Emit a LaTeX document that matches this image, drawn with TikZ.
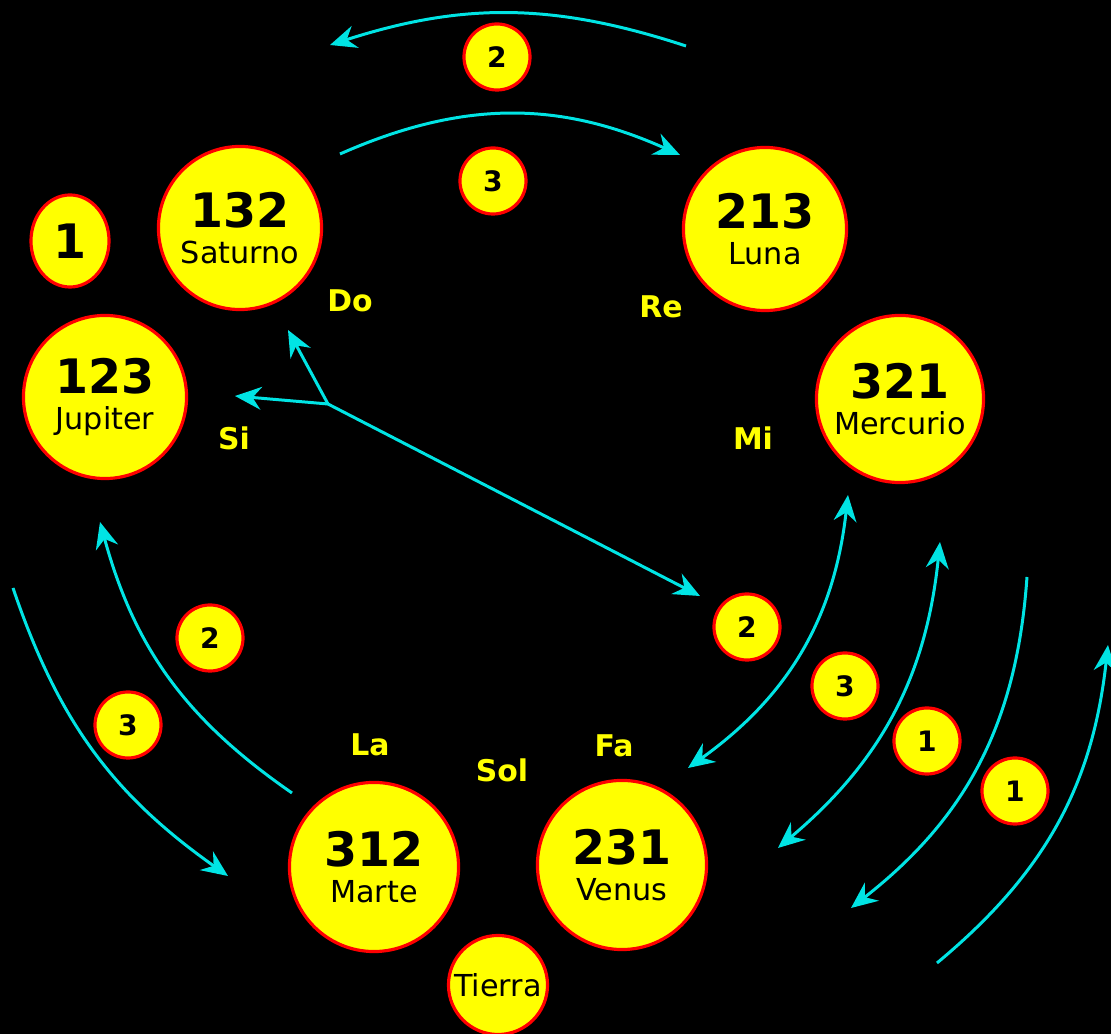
\documentclass[tikz,border=0pt]{standalone}
\usepackage{fontspec}
\setmainfont{DejaVu Sans}
\usetikzlibrary{arrows.meta,shapes.geometric}
\definecolor{sky}{RGB}{0,228,228}
\definecolor{sun}{RGB}{255,255,0}
\definecolor{rim}{RGB}{255,0,0}
\newcommand{\planetext}[2]{{\fontsize{13.5}{14}\selectfont\bfseries #1}\\[1.2pt]#2}
\begin{document}
\begin{tikzpicture}[x=0.01cm,y=-0.01cm,
    orbit/.style = {sky,line width=0.85pt,-{Stealth[length=7.5pt,width=6.5pt,inset=2.5pt]}},
    twoway/.style = {sky,line width=0.85pt,{Stealth[length=7.5pt,width=6.5pt,inset=2.5pt]}-{Stealth[length=7.5pt,width=6.5pt,inset=2.5pt]}},
    planet/.style = {circle,draw=rim,line width=0.9pt,fill=sun,minimum size=1.63cm,inner sep=0pt,align=center,font=\fontsize{8.6}{9}\selectfont},
    token/.style = {circle,draw=rim,line width=0.9pt,fill=sun,minimum size=0.66cm,inner sep=0pt,font=\fontsize{8}{9}\selectfont\bfseries},
    note/.style = {text=sun,font=\fontsize{8.5}{9}\selectfont\bfseries}]
    \fill[black] (0,0) rectangle (1111,1034);
    \useasboundingbox (0,0) rectangle (1111,1034);

    \coordinate (a1) at (686,46);   \coordinate (b1) at (330,45);
    \coordinate (a2) at (340,154);  \coordinate (b2) at (680,155);
    \coordinate (a4) at (292,793);  \coordinate (b4) at (100,522);
    \coordinate (a5) at (13,588);   \coordinate (b5) at (228,876);
    \coordinate (a6) at (688,768);  \coordinate (b6) at (848,495);
    \coordinate (a7) at (778,848);  \coordinate (b7) at (940,542);
    \coordinate (a8) at (1027,577); \coordinate (b8) at (851,908);
    \coordinate (a9) at (937,963);  \coordinate (b9) at (1108,645);
    \coordinate (fork) at (328,404);
    \coordinate (toSi) at (235,396);
    \coordinate (toDo) at (288,330);
    \coordinate (toTwo) at (700,596);

    \draw[orbit] (a1) to[bend right=18] (b1);
    \draw[orbit] (a2) to[bend left=24] (b2);
    \draw[orbit] (a4) to[bend left=20] (b4);
    \draw[orbit] (a5) to[bend right=18] (b5);
    \draw[twoway] (a6) to[bend right=24] (b6);
    \draw[twoway] (a7) to[bend right=22] (b7);
    \draw[orbit] (a8) to[bend left=24] (b8);
    \draw[orbit] (a9) to[bend right=22] (b9);
    \draw[orbit] (fork) -- (toTwo);
    \draw[orbit] (fork) -- (toSi);
    \draw[orbit] (fork) -- (toDo);

    \node[planet] (saturno) at (240,228) {\planetext{132}{Saturno}};
    \node[planet] (luna) at (765,229) {\planetext{213}{Luna}};
    \node[planet] (jupiter) at (105,397) {\planetext{123}{Jupiter}};
    \node[planet,minimum size=1.67cm] (mercurio) at (900,399) {\planetext{321}{Mercurio}};
    \node[planet,minimum size=1.69cm] (marte) at (374,867) {\planetext{312}{Marte}};
    \node[planet,minimum size=1.69cm] (venus) at (622,865) {\planetext{231}{Venus}};
    \node[planet,minimum size=0.99cm] (tierra) at (498,985) {Tierra};

    \node[token,ellipse,minimum width=0.78cm,minimum height=0.92cm,
          font=\fontsize{13.5}{14}\selectfont\bfseries] (one) at (70,241) {1};
    \node[token] (twoTop) at (497,57) {2};
    \node[token] (threeTop) at (493,181) {3};
    \node[token] (twoLeft) at (210,638) {2};
    \node[token] (threeLeft) at (128,725) {3};
    \node[token] (twoRight) at (747,627) {2};
    \node[token] (threeRight) at (845,686) {3};
    \node[token] (oneRight) at (927,741) {1};
    \node[token] (oneFar) at (1015,791) {1};

    \node[note] (do) at (350,301) {Do};
    \node[note] (re) at (661,307) {Re};
    \node[note] (si) at (234,438) {Si};
    \node[note] (mi) at (753,438) {Mi};
    \node[note] (la) at (370,745) {La};
    \node[note] (sol) at (502,770) {Sol};
    \node[note] (fa) at (614,746) {Fa};
\end{tikzpicture}
\end{document}
